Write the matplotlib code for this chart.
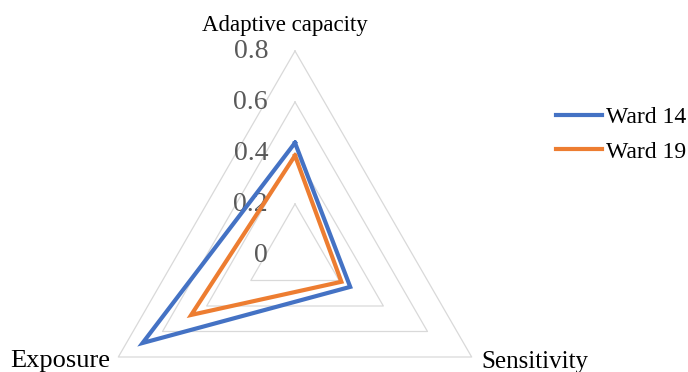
import numpy as np
import matplotlib
matplotlib.use("Agg")
import matplotlib.pyplot as plt

# Radar chart data
categories = ["Adaptive capacity", "Sensitivity", "Exposure"]
ward14 = [0.44, 0.25, 0.69]
ward19 = [0.39, 0.21, 0.47]
ring_values = [0.2, 0.4, 0.6, 0.8]
tick_values = [0, 0.2, 0.4, 0.6, 0.8]
tick_labels = ["0", "0.2", "0.4", "0.6", "0.8"]

plt.rcParams["font.family"] = ["Liberation Serif", "DejaVu Serif"]

W, H = 688, 372
fig = plt.figure(figsize=(W / 100, H / 100), dpi=100)

# polar axes placed so that the centre sits at (295, 255) px and r=0.8 is 204 px
cx, cy, R = 295, 255, 204
ax = fig.add_axes([(cx - R) / W, (H - cy - R) / H, 2 * R / W, 2 * R / H],
                  projection="polar")
ax.set_theta_offset(np.pi / 2)
ax.set_theta_direction(-1)
ax.set_ylim(0, 0.8)
ax.axis("off")

angles = np.linspace(0, 2 * np.pi, len(categories), endpoint=False)
closed = np.append(angles, angles[0])

# triangular grid
for r in ring_values:
    ax.plot(closed, [r] * len(closed), color="#d9d9d9", lw=0.9,
            clip_on=False, zorder=1)

# series
for vals, color, name in [(ward14, "#4472c4", "Ward 14"),
                          (ward19, "#ed7d31", "Ward 19")]:
    ax.plot(closed, vals + vals[:1], color=color, lw=3.0, label=name,
            solid_joinstyle="miter", clip_on=False, zorder=3)

# value labels along the top axis
for v, lab in zip(tick_values, tick_labels):
    ax.annotate(lab, (angles[0], v), xytext=(-27, 0), textcoords="offset pixels",
                ha="right", va="center", fontsize=20, color="#595959",
                annotation_clip=False, zorder=2)

# category labels
fig.text(285 / W, (H - 25) / H, categories[0], ha="center", va="center",
         fontsize=16.5, color="black")
fig.text(481 / W, (H - 368) / H, categories[1], ha="left", va="baseline",
         fontsize=18, color="black")
fig.text(110 / W, (H - 367) / H, categories[2], ha="right", va="baseline",
         fontsize=19, color="black")

fig.legend(loc="center left", bbox_to_anchor=(556 / W, (H - 134.5) / H),
           bbox_transform=fig.transFigure, frameon=False, fontsize=17,
           handlelength=1.95, handletextpad=0.15, labelspacing=0.55,
           borderpad=0, borderaxespad=0)

fig.savefig("out.png", dpi=100)
